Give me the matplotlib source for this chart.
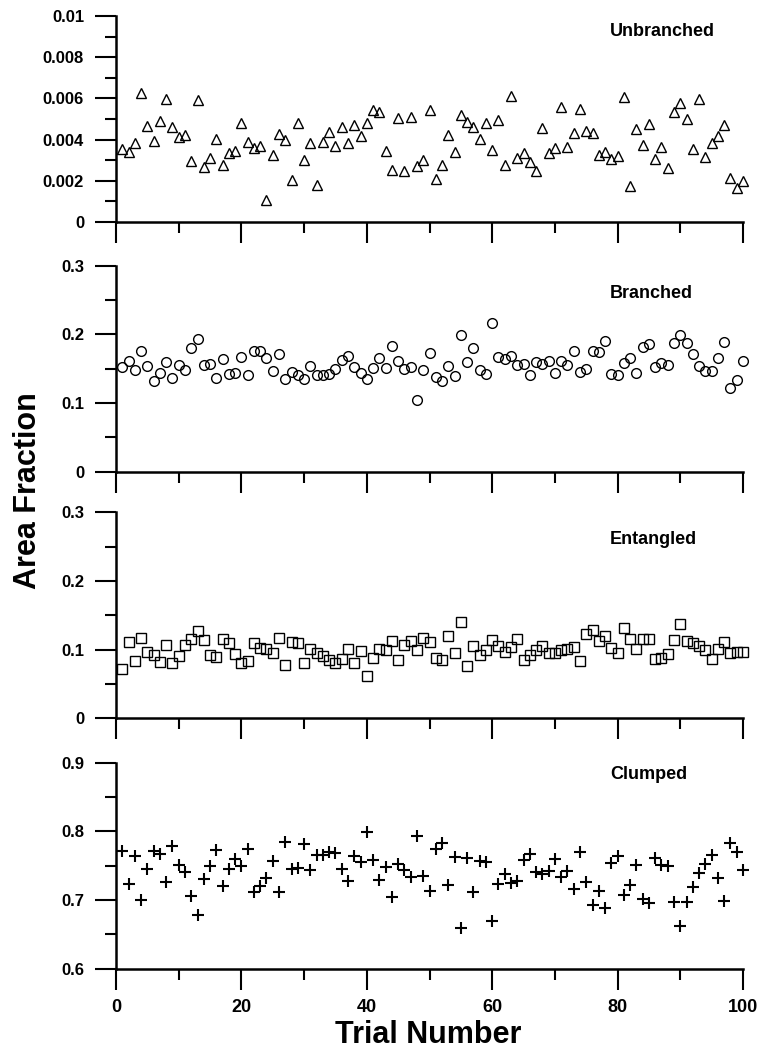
import numpy as np
import matplotlib
matplotlib.use("Agg")
import matplotlib.pyplot as plt
from matplotlib.ticker import MultipleLocator, FuncFormatter

plt.rcParams['font.family'] = ['Liberation Sans', 'DejaVu Sans']
plt.rcParams['font.weight'] = 'bold'

trials = np.arange(1, 101)

# unbranched in units of 0.001
unbranched = np.array([
    3.55, 3.42, 3.84, 6.26, 4.68, 3.95, 4.92, 5.98, 4.60, 4.15,
    4.24, 2.97, 5.92, 2.65, 3.10, 4.03, 2.77, 3.34, 3.47, 4.81,
    3.87, 3.58, 3.69, 1.08, 3.27, 4.27, 3.97, 2.05, 4.79, 3.00,
    3.82, 1.81, 3.90, 4.35, 3.71, 4.63, 3.84, 4.71, 4.16, 4.79,
    5.42, 5.34, 3.44, 2.53, 5.05, 2.48, 5.11, 2.73, 3.03, 5.44,
    2.10, 2.79, 4.24, 3.42, 5.21, 4.87, 4.63, 4.03, 4.81, 3.50,
    4.95, 2.79, 6.11, 3.11, 3.34, 2.90, 2.50, 4.56, 3.37, 3.61,
    5.58, 3.66, 4.34, 5.50, 4.44, 4.34, 3.27, 3.40, 3.05, 3.18,
    6.06, 1.73, 4.50, 3.74, 4.76, 3.05, 3.65, 2.61, 5.32, 5.80,
    5.02, 3.55, 5.98, 3.15, 3.85, 4.16, 4.73, 2.13, 1.65, 1.97]) * 0.001

branched = [
    .1524, .1615, .1476, .1760, .1534, .1317, .1442, .1596, .1360, .1553,
    .1480, .1798, .1928, .1553, .1570, .1370, .1635, .1418, .1442, .1668,
    .1413, .1764, .1755, .1650, .1460, .1707, .1356, .1447, .1413, .1356,
    .1538, .1404, .1404, .1418, .1495, .1620, .1690, .1524, .1433, .1356,
    .1514, .1659, .1510, .1832, .1606, .1490, .1520, .1048, .1476, .1730,
    .1385, .1317, .1538, .1390, .1995, .1596, .1798, .1486, .1423, .2163,
    .1673, .1635, .1683, .1548, .1570, .1404, .1600, .1562, .1615, .1442,
    .1606, .1548, .1760, .1457, .1495, .1755, .1745, .1900, .1423, .1404,
    .1577, .1654, .1438, .1817, .1865, .1524, .1582, .1558, .1870, .1986,
    .1880, .1716, .1534, .1466, .1462, .1663, .1890, .1221, .1332, .1606]

entangled = [
    .0712, .1117, .0829, .1171, .0961, .0917, .0824, .1073, .0805, .0902,
    .1073, .1151, .1268, .1146, .0927, .0888, .1161, .1102, .0941, .0800,
    .0834, .1093, .1024, .1015, .0951, .1171, .0771, .1112, .1093, .0810,
    .1015, .0946, .0907, .0849, .0805, .0868, .1005, .0805, .0985, .0610,
    .0878, .1015, .0990, .1122, .0844, .1063, .1132, .0995, .1171, .1107,
    .0878, .0854, .1205, .0951, .1400, .0761, .1059, .0927, .0995, .1141,
    .1059, .0961, .1034, .1161, .0849, .0927, .0995, .1049, .0946, .0956,
    .0995, .1005, .1044, .0834, .1224, .1288, .1132, .1205, .1029, .0946,
    .1312, .1156, .1015, .1151, .1151, .0868, .0873, .0941, .1141, .1376,
    .1132, .1102, .1054, .1000, .0863, .1015, .1112, .0951, .0971, .0961]

clumped = [
    .7720, .7228, .7647, .6997, .7450, .7720, .7671, .7257, .7782, .7517,
    .7411, .7055, .6780, .7305, .7498, .7724, .7204, .7460, .7599, .7498,
    .7739, .7122, .7199, .7329, .7570, .7113, .7845, .7460, .7469, .7816,
    .7445, .7652, .7662, .7700, .7681, .7460, .7276, .7647, .7556, .7999,
    .7580, .7296, .7479, .7050, .7532, .7440, .7334, .7941, .7353, .7132,
    .7749, .7830, .7219, .7633, .6588, .7614, .7118, .7566, .7551, .6689,
    .7228, .7387, .7243, .7277, .7580, .7672, .7407, .7382, .7431, .7594,
    .7344, .7431, .7166, .7696, .7262, .6934, .7127, .6886, .7537, .7643,
    .7074, .7214, .7517, .7016, .6959, .7614, .7517, .7493, .6973, .6617,
    .6978, .7195, .7392, .7527, .7662, .7320, .6987, .7835, .7696, .7440]

names = ['Unbranched', 'Branched', 'Entangled', 'Clumped']
series = [unbranched, branched, entangled, clumped]
ylims = [(0, 0.01), (0, 0.3), (0, 0.3), (0.6, 0.9)]
ymajor = [0.002, 0.1, 0.1, 0.1]
yminor = [0.001, 0.05, 0.05, 0.05]

# layout / style per panel
markers = [('^', 7.5), ('o', 7), ('s', 6.5), ('+', 8)]
bottoms_px = [222, 471.7, 718.3, 968.8]
label_y = [0.923, 0.865, 0.87, 0.942]

W, H = 768, 1055
fig = plt.figure(figsize=(W / 100, H / 100), dpi=100)

left = 116 / W
width = (743 - 116) / W
height = 206 / H

for i in range(4):
    ax = fig.add_axes([left, 1 - bottoms_px[i] / H, width, height])
    m, ms = markers[i]
    if m == '+':
        ax.plot(trials, series[i], linestyle='none', marker=m, ms=ms,
                mew=1.5, color='black', clip_on=False)
    else:
        ax.plot(trials, series[i], linestyle='none', marker=m, ms=ms,
                mfc='none', mec='black', mew=1.0, clip_on=False)

    ax.set_xlim(0, 100)
    ax.set_ylim(*ylims[i])
    ax.spines['top'].set_visible(False)
    ax.spines['right'].set_visible(False)
    ax.spines['left'].set_linewidth(1.8)
    ax.spines['bottom'].set_linewidth(1.8)

    ax.xaxis.set_major_locator(MultipleLocator(20))
    ax.xaxis.set_minor_locator(MultipleLocator(10))
    ax.yaxis.set_major_locator(MultipleLocator(ymajor[i]))
    ax.yaxis.set_minor_locator(MultipleLocator(yminor[i]))
    ax.yaxis.set_major_formatter(FuncFormatter(lambda v, p: '%g' % round(v, 6)))

    ax.tick_params(which='major', direction='out', length=15, width=1.5)
    ax.tick_params(which='minor', direction='out', length=8, width=1.5)
    ax.tick_params(axis='y', which='major', labelsize=12, pad=8)
    ax.tick_params(axis='x', which='major', labelsize=13, pad=7)
    for lab in ax.get_yticklabels() + ax.get_xticklabels():
        lab.set_fontweight('bold')
    if i < 3:
        ax.tick_params(axis='x', labelbottom=False)

    ax.text(0.788, label_y[i], names[i], transform=ax.transAxes,
            ha='left', va='center', fontsize=13, fontweight='bold')

fig.text(0.036, 0.535, 'Area Fraction', rotation=90, ha='center', va='center',
         fontsize=22, fontweight='bold')
fig.text(0.558, 0.019, 'Trial Number', ha='center', va='center',
         fontsize=22, fontweight='bold')

fig.savefig('out.png', dpi=100)
